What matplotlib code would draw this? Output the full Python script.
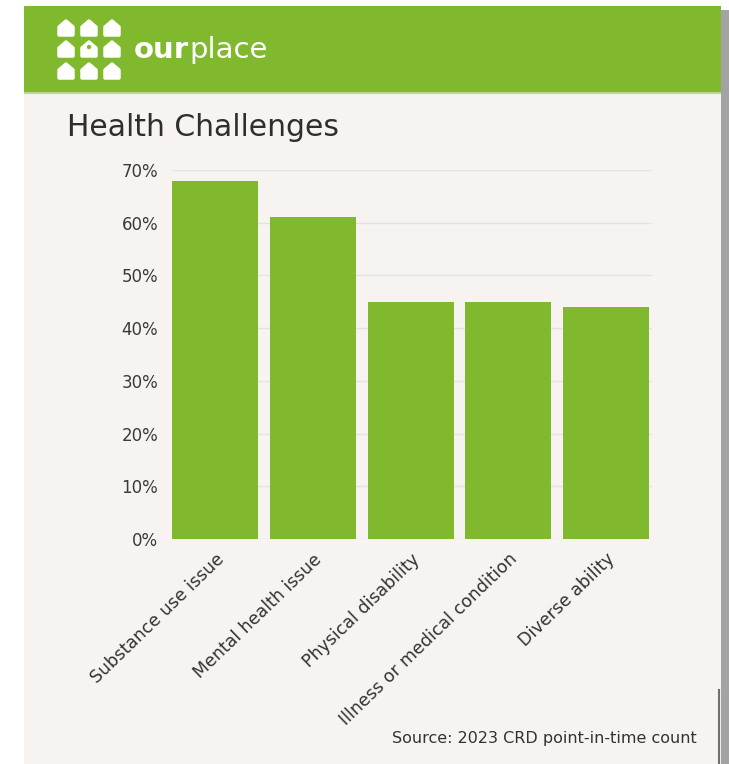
import matplotlib.pyplot as plt
from matplotlib.patches import Rectangle, Polygon, Circle
from matplotlib.ticker import PercentFormatter

# Health challenges reported in the count (percent of respondents)
categories = [
    "Substance use issue",
    "Mental health issue",
    "Physical disability",
    "Illness or medical condition",
    "Diverse ability",
]
shares = [68, 61, 45, 45, 44]
y_ticks = [0, 10, 20, 30, 40, 50, 60, 70]

GREEN = "#80b82e"
PAPER = "#f7f3f0"
TEXT = "#333333"
W, H = 729, 764

plt.rcParams["font.family"] = ["DejaVu Sans"]

fig = plt.figure(figsize=(W / 100, H / 100), dpi=100)
fig.patch.set_facecolor("white")

# Background layer in pixel coordinates: card, header band, shadow, logo
bg = fig.add_axes([0, 0, 1, 1], zorder=-1)
bg.set_xlim(0, W)
bg.set_ylim(H, 0)
bg.axis("off")
bg.add_patch(Rectangle((721, 10), 8, H - 10, color="#a3a3a3", lw=0))
bg.add_patch(Rectangle((24, 6), 697, H - 6, color=PAPER, lw=0))
bg.add_patch(Rectangle((24, 6), 697, 86, color=GREEN, lw=0))
bg.add_patch(Rectangle((24, 92), 697, 2, color="#b9d88a", lw=0))
bg.plot([719, 719], [690, H], color="#6f6f6f", lw=1.5)

# little house icons, 3 x 3 grid
house = [(-7, 7), (7, 7), (7, -1), (0, -7), (-7, -1)]
for cy in (28, 49, 71):
    for cx in (66, 89, 112):
        pts = [(cx + dx, cy + dy) for dx, dy in house]
        bg.add_patch(Polygon(pts, closed=True, facecolor="white",
                             edgecolor="white", lw=2.5, joinstyle="round"))
bg.add_patch(Circle((89, 47), 2.2, color=GREEN, lw=0))

our = bg.text(134, 58, "our", color="white", fontsize=21,
              fontweight="bold", va="baseline", ha="left")
bg.annotate("place", xy=(1, 0), xycoords=our, color="white",
            fontsize=21, va="bottom", ha="left")

bg.text(67, 136, "Health Challenges", color="#2e2e2e", fontsize=21.5,
        va="baseline", ha="left")
bg.text(697, 738, "Source: 2023 CRD point-in-time count", color=TEXT,
        fontsize=11.5, va="center", ha="right")

# Bar chart
ax = fig.add_axes([172 / W, 1 - 539 / H, (652 - 172) / W, (539 - 170) / H])
ax.set_facecolor("none")
x = range(len(categories))
ax.bar(x, shares, width=0.88, color=GREEN, zorder=2)
ax.set_xlim(-0.44, 4.47)
ax.set_ylim(0, 70)
ax.set_yticks(y_ticks)
ax.yaxis.set_major_formatter(PercentFormatter(decimals=0))
ax.grid(axis="y", color="#e6e2de", lw=1, zorder=0)
for s in ax.spines.values():
    s.set_visible(False)
ax.tick_params(axis="y", length=0, pad=10, labelsize=12, labelcolor="#3a3a3a")
ax.tick_params(axis="x", length=0, pad=8, labelsize=12.5, labelcolor=TEXT)
ax.set_xticks(list(x), categories, rotation=44, ha="right",
              rotation_mode="anchor")

fig.savefig("out.png", dpi=100)
